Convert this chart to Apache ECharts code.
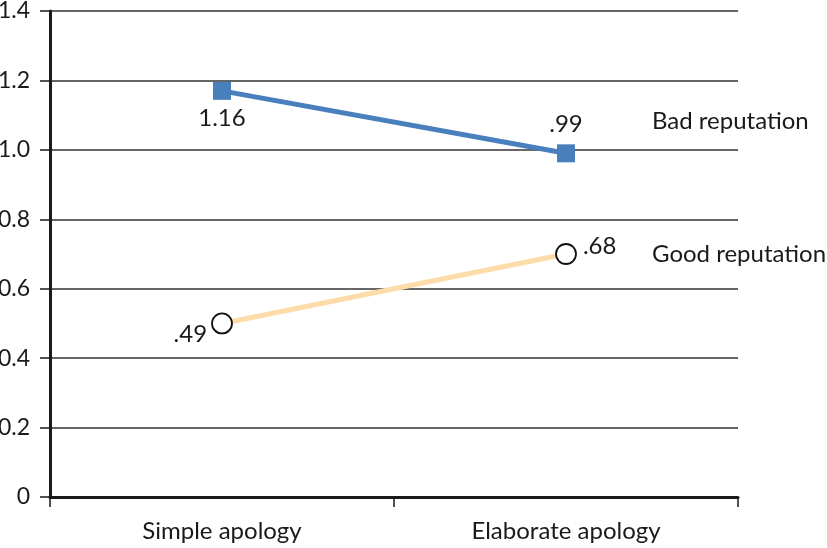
<!DOCTYPE html>
<html><head><meta charset="utf-8">
<script src="https://cdn.jsdelivr.net/npm/echarts@6/dist/echarts.min.js"></script>
<style>html,body{margin:0;padding:0;background:#fff}#c{width:827px;height:548px}</style>
</head><body><div id="c"></div>
<script>
var categories = ['Simple apology', 'Elaborate apology'];
var badName = 'Bad reputation';
var goodName = 'Good reputation';
var badValues = [1.17, 0.99];
var goodValues = [0.50, 0.70];
var badLabels = ['1.16', '.99'];
var goodLabels = ['.49', '.68'];

var FONT = 'Lato';
var FS = 24;
var chart = echarts.init(document.getElementById('c'), null, {renderer: 'canvas'});

function pts(values, labels, cfgs) {
  return values.map(function (v, i) {
    return {value: v, label: Object.assign({show: true, formatter: labels[i]}, cfgs[i])};
  });
}

chart.setOption({
  animation: false,
  backgroundColor: '#fff',
  grid: {left: 50, right: 89, top: 11, bottom: 51, containLabel: false, outerBoundsMode: 'none'},
  xAxis: {
    type: 'category', data: categories, boundaryGap: true,
    axisLine: {lineStyle: {color: '#1a1a1a', width: 3}},
    axisTick: {show: true, length: 10, inside: false, lineStyle: {color: '#1a1a1a', width: 1.5}},
    axisLabel: {color: '#1a1a1a', fontSize: FS, fontFamily: FONT, margin: 22},
    splitLine: {show: false}
  },
  yAxis: {
    type: 'value', min: 0, max: 1.4, interval: 0.2,
    axisLine: {show: true, lineStyle: {color: '#1a1a1a', width: 3}},
    axisTick: {show: true, length: 10, lineStyle: {color: '#1a1a1a', width: 1.5}},
    axisLabel: {color: '#1a1a1a', fontSize: 23, fontFamily: FONT, margin: 20,
      formatter: function (v) { return v === 0 ? '0' : v.toFixed(1); }},
    splitLine: {show: true, lineStyle: {color: '#333', width: 1.5}}
  },
  series: [
    {
      name: badName, type: 'line',
      data: pts(badValues, badLabels, [
        {position: 'bottom', distance: 6},
        {position: 'top', distance: 8}
      ]),
      symbol: 'rect', symbolSize: 18,
      lineStyle: {color: '#4a7fbd', width: 5},
      itemStyle: {color: '#4a7fbd'},
      label: {color: '#1a1a1a', fontSize: FS, fontFamily: FONT},
      endLabel: {show: true, formatter: '{a}', color: '#1a1a1a', fontSize: FS, fontFamily: FONT, distance: 0, offset: [86, -32]},
      z: 3
    },
    {
      name: goodName, type: 'line',
      data: pts(goodValues, goodLabels, [
        {position: 'left', distance: 4, offset: [0, 11]},
        {position: 'right', distance: 6, offset: [0, -8]}
      ]),
      symbol: 'circle', symbolSize: 20, showAllSymbol: true,
      lineStyle: {color: '#fddcaa', width: 5},
      itemStyle: {color: '#fff', borderColor: '#111', borderWidth: 1.8},
      label: {color: '#1a1a1a', fontSize: FS, fontFamily: FONT},
      endLabel: {show: true, formatter: '{a}', color: '#1a1a1a', fontSize: FS, fontFamily: FONT, distance: 0, offset: [86, 0]},
      z: 3
    }
  ]
});
</script>
</body></html>
